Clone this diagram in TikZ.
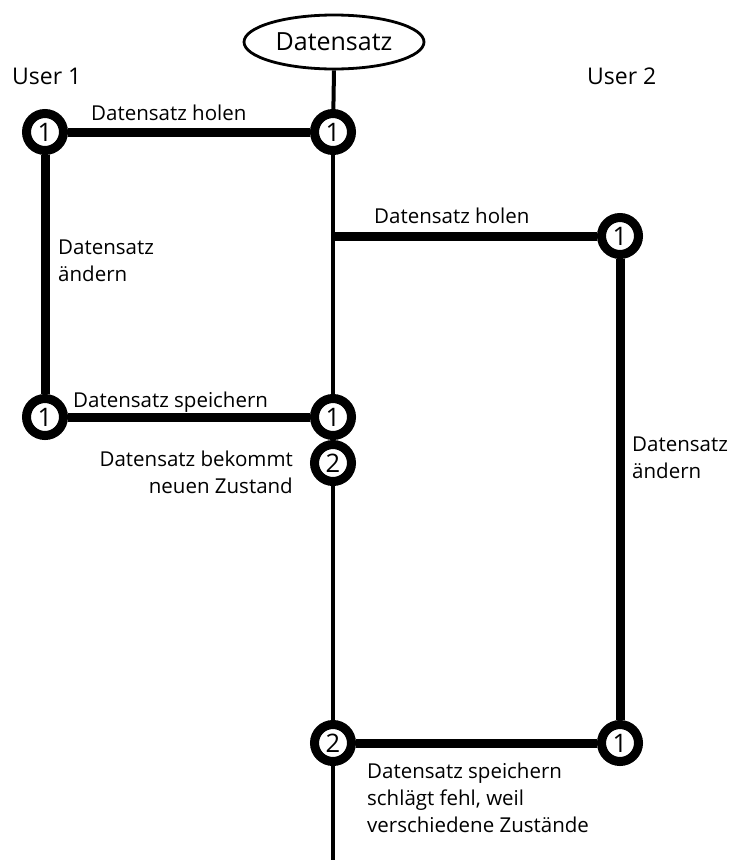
\documentclass[tikz,border=0pt]{standalone}
\usepackage{fontspec}
\setmainfont{Open Sans}
\usetikzlibrary{shapes.geometric}
\begin{document}
\begin{tikzpicture}[x=1pt,y=-1pt,
  state/.style={circle,draw=black,fill=white,line width=9pt,minimum size=37pt,inner sep=0pt,
    font=\fontsize{25.5}{25.5}\selectfont},
  flow/.style={line width=9pt},
  timeline/.style={line width=4pt},
  lbl/.style={inner sep=0pt,font=\fontsize{20.5}{27}\selectfont,align=left},
  user/.style={inner sep=0pt,font=\fontsize{23}{23}\selectfont}
]
\useasboundingbox (0,0) rectangle (732,860);

% record shared by both users
\node[ellipse,draw,line width=2.8pt,minimum width=180pt,minimum height=54pt,inner sep=0pt,
  font=\fontsize{25}{25}\selectfont] (rec) at (334,42) {Datensatz};

\node[user,anchor=base west] (u1) at (12,84) {User 1};
\node[user,anchor=base west] (u2) at (587,84) {User 2};

% state markers
\coordinate (join) at (333,236);
\coordinate (tail) at (333,860);
\node[state] (a1) at (45,132) {1};
\node[state] (m1) at (333,132) {1};
\node[state] (b1) at (620,236) {1};
\node[state] (a2) at (45,417) {1};
\node[state] (m2) at (333,417) {1};
\node[state] (m3) at (333,463) {2};
\node[state] (m4) at (333,743) {2};
\node[state] (b2) at (620,743) {1};

% record timeline
\draw[timeline] (rec.south) -- (m1);
\draw[timeline] (m1) -- (m2);
\draw[timeline] (m3) -- (m4);
\draw[timeline] (m4) -- (tail);

% user actions
\draw[flow] (a1) -- (m1);
\draw[flow] (a1) -- (a2);
\draw[flow] (a2) -- (m2);
\draw[flow] (join) -- (b1);
\draw[flow] (b1) -- (b2);
\draw[flow] (m4) -- (b2);

% labels
\node[lbl,anchor=base west] (t1) at (91,120) {Datensatz holen};
\node[lbl,anchor=base west] (t2) at (374,223) {Datensatz holen};
\node[lbl,anchor=north west] (t3) at (58,240) {Datensatz\\ändern};
\node[lbl,anchor=base west] (t4) at (73,407) {Datensatz speichern};
\node[lbl,anchor=north east,align=right] (t5) at (293,451) {Datensatz bekommt\\neuen Zustand};
\node[lbl,anchor=north west] (t6) at (632,437) {Datensatz\\ändern};
\node[lbl,anchor=north west] (t7) at (367,763) {Datensatz speichern\\schlägt fehl, weil\\verschiedene Zustände};
\end{tikzpicture}
\end{document}
